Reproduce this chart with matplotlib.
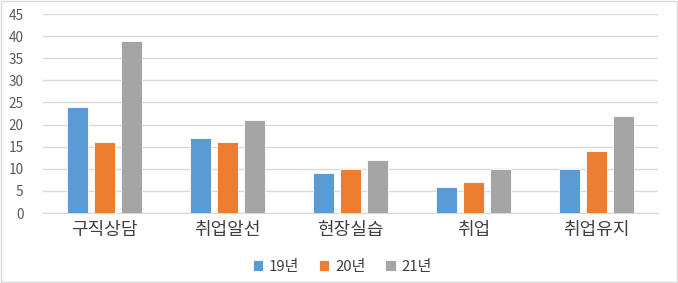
import numpy as np
import matplotlib.pyplot as plt

plt.rcParams['font.family'] = ['Noto Sans CJK KR', 'DejaVu Sans']

categories = ['구직상담', '취업알선', '현장실습', '취업', '취업유지']
series_names = ['19년', '20년', '21년']
y19 = [24, 17, 9, 6, 10]
y20 = [16, 16, 10, 7, 14]
y21 = [39, 21, 12, 10, 22]
colors = ['#5B9BD5', '#ED7D31', '#A5A5A5']

fig = plt.figure(figsize=(6.78, 2.83), dpi=100)
ax = fig.add_axes([0.0634, 0.247, 0.907, 0.7035])

x = np.arange(len(categories))
width = 0.17
step = 0.22
for i, (vals, name) in enumerate(zip([y19, y20, y21], series_names)):
    ax.bar(x + (i - 1) * step, vals, width, color=colors[i], label=name,
           edgecolor='white', linewidth=0.6, zorder=3)

ax.set_xlim(-0.5, len(categories) - 0.5)
ax.set_ylim(0, 45)
ax.set_yticks(range(0, 46, 5))
ax.set_xticks(x)
ax.set_xticklabels(categories, fontsize=13, color='#404040')
ax.tick_params(axis='y', labelsize=9.8, labelcolor='#595959', length=0, pad=14)
ax.tick_params(axis='x', length=0, pad=6)
ax.grid(axis='y', color='#D9D9D9', linewidth=1, zorder=0)
for s in ['top', 'right', 'left']:
    ax.spines[s].set_visible(False)
ax.spines['bottom'].set_color('#D9D9D9')

fig.legend(loc='center', bbox_to_anchor=(0.505, 0.057), ncol=3, frameon=False,
           fontsize=10.8, handlelength=0.7, handleheight=0.7, columnspacing=1.3,
           handletextpad=0.4, labelcolor='#404040')

fig.patches.append(plt.Rectangle((0.001, 0.002), 0.997, 0.995, transform=fig.transFigure,
                                 fill=False, edgecolor='#D9D9D9', linewidth=1))

fig.savefig('out.png', dpi=100)
